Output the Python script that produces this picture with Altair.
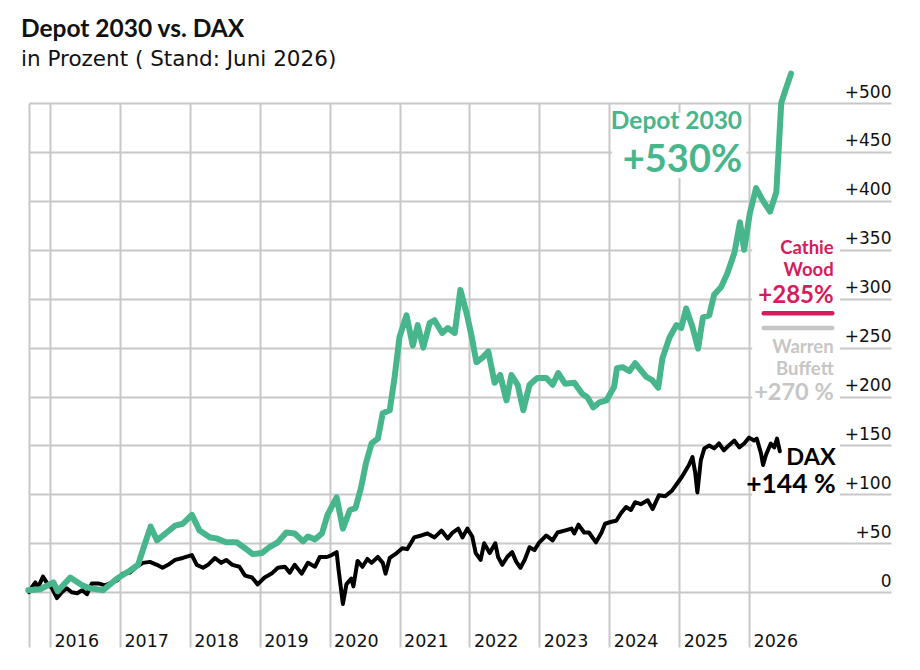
import altair as alt
import pandas as pd

# Cumulative performance in percent, sampled along decimal years
depot_t = [2015.69, 2015.86, 2016.05, 2016.11, 2016.29, 2016.46, 2016.57, 2016.76, 2016.96, 2017.14,
           2017.26, 2017.36, 2017.44, 2017.53, 2017.67, 2017.79, 2017.90, 2018.03, 2018.14, 2018.29,
           2018.38, 2018.52, 2018.67, 2018.79, 2018.90, 2019.03, 2019.14, 2019.26, 2019.38, 2019.50,
           2019.62, 2019.69, 2019.79, 2019.89, 2019.97, 2020.10, 2020.19, 2020.29, 2020.37, 2020.45,
           2020.52, 2020.60, 2020.69, 2020.76, 2020.86, 2020.93, 2021.00, 2021.10, 2021.19, 2021.26,
           2021.34, 2021.43, 2021.50, 2021.61, 2021.69, 2021.79, 2021.87, 2021.96, 2022.03, 2022.10,
           2022.19, 2022.27, 2022.36, 2022.44, 2022.53, 2022.60, 2022.69, 2022.77, 2022.86, 2022.97,
           2023.10, 2023.19, 2023.27, 2023.37, 2023.50, 2023.61, 2023.69, 2023.77, 2023.86, 2023.96,
           2024.07, 2024.11, 2024.19, 2024.29, 2024.37, 2024.53, 2024.61, 2024.70, 2024.76, 2024.86,
           2024.96, 2025.03, 2025.10, 2025.19, 2025.27, 2025.34, 2025.43, 2025.50, 2025.60, 2025.69,
           2025.79, 2025.87, 2025.93, 2026.01, 2026.10, 2026.19, 2026.30, 2026.39, 2026.46, 2026.51,
           2026.60]
depot_v = [2, 3, 10, 1, 15, 7, 4, 2, 14, 22,
           28, 50, 67, 53, 61, 68, 70, 79, 63, 56,
           55, 51, 51, 45, 39, 40, 46, 51, 61, 60,
           52, 57, 54, 60, 79, 97, 65, 84, 86, 107,
           132, 152, 157, 183, 186, 220, 261, 283, 252, 273,
           250, 275, 278, 265, 270, 265, 309, 285, 262, 235,
           240, 246, 214, 222, 196, 222, 212, 186, 212, 219,
           219, 212, 224, 213, 214, 203, 199, 189, 194, 196,
           210, 229, 230, 226, 234, 220, 217, 209, 239, 260,
           273, 270, 290, 271, 249, 281, 283, 304, 312, 326,
           347, 378, 350, 387, 413, 401, 389, 409, 500, 511,
           530]

dax_t = [2015.70, 2015.75, 2015.79, 2015.83, 2015.90, 2015.96, 2016.03, 2016.10, 2016.17, 2016.24,
         2016.31, 2016.39, 2016.46, 2016.53, 2016.60, 2016.69, 2016.79, 2016.89, 2016.96, 2017.04,
         2017.14, 2017.24, 2017.33, 2017.43, 2017.53, 2017.61, 2017.69, 2017.79, 2017.90, 2018.03,
         2018.10, 2018.19, 2018.26, 2018.36, 2018.45, 2018.52, 2018.61, 2018.71, 2018.79, 2018.89,
         2018.97, 2019.07, 2019.17, 2019.26, 2019.36, 2019.43, 2019.50, 2019.60, 2019.69, 2019.79,
         2019.86, 2019.96, 2020.03, 2020.10, 2020.13, 2020.19, 2020.24, 2020.31, 2020.34, 2020.40,
         2020.47, 2020.54, 2020.60, 2020.69, 2020.76, 2020.80, 2020.86, 2020.96, 2021.04, 2021.11,
         2021.21, 2021.31, 2021.40, 2021.50, 2021.60, 2021.69, 2021.76, 2021.84, 2021.90, 2021.97,
         2022.04, 2022.09, 2022.16, 2022.21, 2022.29, 2022.37, 2022.41, 2022.47, 2022.54, 2022.61,
         2022.67, 2022.73, 2022.79, 2022.86, 2022.93, 2023.00, 2023.10, 2023.19, 2023.26, 2023.36,
         2023.46, 2023.50, 2023.56, 2023.64, 2023.71, 2023.81, 2023.89, 2023.94, 2024.03, 2024.10,
         2024.17, 2024.24, 2024.31, 2024.37, 2024.45, 2024.55, 2024.62, 2024.71, 2024.80, 2024.90,
         2025.04, 2025.14, 2025.19, 2025.23, 2025.26, 2025.31, 2025.36, 2025.43, 2025.50, 2025.57,
         2025.64, 2025.71, 2025.79, 2025.86, 2025.93, 2026.00, 2026.07, 2026.11, 2026.17, 2026.20,
         2026.24, 2026.31, 2026.36, 2026.40, 2026.44]
dax_v = [0, 6, 10, 5, 16, 9, 4, -6, 0, 4,
         0, -1, 2, -2, 9, 9, 7, 10, 12, 19,
         20, 26, 30, 31, 28, 25, 28, 33, 35, 38,
         28, 25, 28, 35, 30, 33, 28, 26, 17, 15,
         8, 15, 19, 25, 26, 20, 28, 19, 30, 26,
         36, 36, 38, 41, 22, -12, 8, 14, 6, 32,
         26, 34, 30, 36, 30, 19, 35, 40, 45, 44,
         56, 58, 60, 56, 63, 55, 61, 65, 56, 65,
         57, 40, 33, 50, 40, 50, 36, 28, 36, 41,
         31, 25, 33, 46, 43, 51, 58, 53, 61, 63,
         65, 60, 69, 61, 61, 51, 61, 70, 72, 73,
         81, 87, 84, 92, 90, 94, 85, 99, 98, 104,
         118, 130, 138, 122, 102, 135, 147, 150, 147, 152,
         145, 150, 155, 148, 152, 158, 155, 157, 142, 130,
         140, 152, 148, 157, 144]

# Comparison portfolios shown as short markers
peer_names = ["Cathie Wood", "Warren Buffett"]
peer_values = [285, 270]

year_ticks = list(range(2016, 2027))
y_ticks = list(range(0, 501, 50))

GREEN = "#47b68c"
RED = "#d81b5c"
GREY = "#c6c6c6"
INK = "#111111"
FONT = "Lato"
AXIS_FONT = "DejaVu Sans"
X_START, X_END = 2015.7, 2028.03

depot = pd.DataFrame({"t": depot_t, "v": depot_v})
dax = pd.DataFrame({"t": dax_t, "v": dax_v})

x_axis = alt.Axis(
    values=[X_START] + year_ticks, grid=True, gridColor="#c8c8c8", gridWidth=2,
    ticks=False, domain=False, title=None, labelFlush=False, labelOverlap=False,
    labelExpr="datum.value >= 2016 ? format(datum.value, 'd') : ''",
    labelAlign="left", labelBaseline="alphabetic", labelPadding=-1, labelOffset=4,
    labelFont=AXIS_FONT, labelFontSize=17.5, labelColor=INK,
)
y_axis = alt.Axis(
    orient="right", values=y_ticks, grid=True, gridColor="#c8c8c8", gridWidth=2,
    ticks=False, domain=False, title=None, labelOverlap=False,
    labelExpr="datum.value > 0 ? '+' + datum.label : datum.label",
    labelAlign="right", labelBaseline="alphabetic", labelPadding=0, labelOffset=-6,
    labelFont=AXIS_FONT, labelFontSize=17, labelColor=INK,
)
x_scale = alt.Scale(domain=[X_START, X_END], nice=False, zero=False)
y_scale = alt.Scale(domain=[-56, 500], nice=False, zero=False)


def X(field):
    return alt.X(field, type="quantitative", scale=x_scale, axis=x_axis)


def Y(field):
    return alt.Y(field, type="quantitative", scale=y_scale, axis=y_axis)


# Text annotations at the right-hand end of the lines
labels = pd.DataFrame([
    {"text": "Depot 2030", "t": 2025.9, "v": 473, "color": GREEN, "size": 24.5},
    {"text": "+530%", "t": 2025.9, "v": 429, "color": GREEN, "size": 38},
    {"text": "Cathie\nWood", "t": 2027.21, "v": 346, "color": RED, "size": 18.5},
    {"text": "+" + str(peer_values[0]) + "%", "t": 2027.21, "v": 296, "color": RED, "size": 24},
    {"text": "Warren\nBuffett", "t": 2027.21, "v": 244.5, "color": GREY, "size": 18.5},
    {"text": "+" + str(peer_values[1]) + " %", "t": 2027.21, "v": 196, "color": GREY, "size": 23.5},
    {"text": "DAX", "t": 2027.24, "v": 130, "color": "#000000", "size": 23.5},
    {"text": "+" + str(dax_v[-1]) + " %", "t": 2027.24, "v": 101, "color": "#000000", "size": 26.5},
])

# White backing panels behind the annotation blocks (hide the grid there)
panels = pd.DataFrame({
    "t0": [2024.04, 2026.045], "t1": [2025.96, 2027.3],
    "v0": [423, 94], "v1": [490, 360],
})

peers = pd.DataFrame({
    "name": peer_names, "v": peer_values, "color": [RED, GREY],
    "t0": [2026.21, 2026.21], "t1": [2027.19, 2027.19],
})

backing = alt.Chart(panels).mark_rect(color="white").encode(
    x=X("t0"), x2="t1", y=Y("v0"), y2="v1"
)

dax_line = alt.Chart(dax).mark_line(
    color="#000000", strokeWidth=4, strokeJoin="round", strokeCap="round", interpolate="linear"
).encode(x=X("t"), y=Y("v"))

depot_line = alt.Chart(depot).mark_line(
    color=GREEN, strokeWidth=6, strokeJoin="round", strokeCap="round", interpolate="linear"
).encode(x=X("t"), y=Y("v"))

peer_marks = alt.Chart(peers).mark_rule(strokeWidth=4.5, strokeCap="round").encode(
    x=X("t0"), x2="t1", y=Y("v"), color=alt.Color("color:N", scale=None, legend=None)
)

text = alt.Chart(labels).mark_text(
    align="right", baseline="alphabetic", font=FONT, fontWeight="bold",
    lineBreak="\n", lineHeight=22.5,
).encode(
    x=X("t"), y=Y("v"), text="text:N",
    size=alt.Size("size:Q", scale=None, legend=None),
    color=alt.Color("color:N", scale=None, legend=None),
)

chart = alt.layer(backing, dax_line, depot_line, peer_marks, text).properties(
    width=862,
    height=544,
    autosize=alt.AutoSizeParams(type="none"),
    padding={"left": 29, "top": 103, "right": 29, "bottom": 23},
    background="white",
    title=alt.TitleParams(
        text="Depot 2030 vs. DAX",
        subtitle="in Prozent ( Stand: Juni 2026)",
        anchor="start", frame="group", dx=-8, offset=-1,
        font=FONT, fontSize=24.5, fontWeight="bold", color=INK,
        subtitleFont=AXIS_FONT, subtitleFontSize=21.5, subtitleFontWeight="normal",
        subtitleColor=INK, subtitlePadding=7,
    ),
).configure_view(stroke=None)

chart.save("out.html", embed_options={"renderer": "svg", "actions": False})
